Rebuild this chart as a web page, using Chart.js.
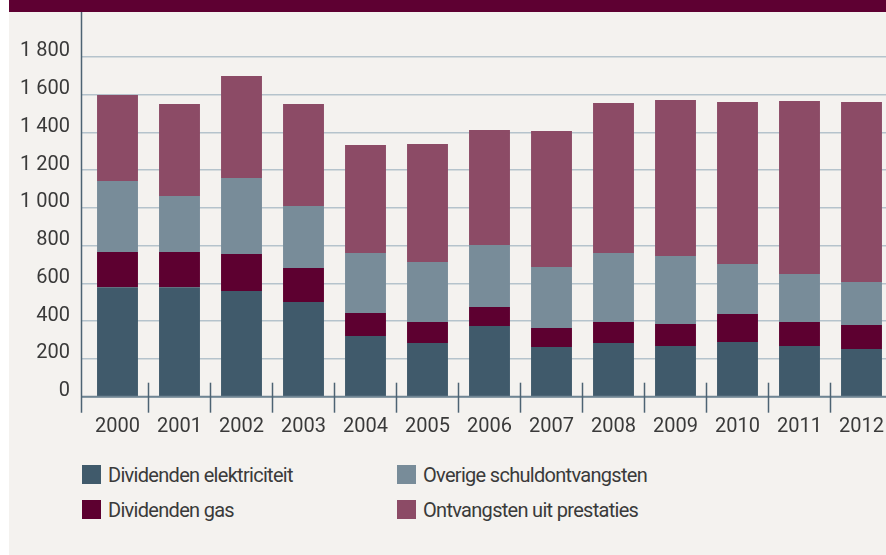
<!DOCTYPE html>
<html>
<head>
<meta charset="utf-8">
<script src="https://cdn.jsdelivr.net/npm/chart.js@4/dist/chart.umd.min.js"></script>
<style>
  html, body { margin: 0; padding: 0; width: 886px; height: 555px; overflow: hidden; background: #fff; }
  .panel { position: absolute; left: 9px; top: 0; width: 877px; height: 555px; background: #f4f2ef; }
  .band { position: absolute; left: 9px; top: 0; width: 877px; height: 12px; background: #5e0032; z-index: 2; }
  .wrap { position: absolute; left: 0; top: 0; width: 900px; height: 440px; }
  .legend { position: absolute; left: 0; top: 0; font-family: Roboto, sans-serif; font-size: 20px; letter-spacing: -0.7px; color: #3a3a3a; }
  .legend .item { position: absolute; display: flex; align-items: center; white-space: nowrap; height: 19px; }
  .legend .sw { width: 19px; height: 19px; margin-right: 7px; }
</style>
</head>
<body>
<div class="panel"></div>
<div class="band"></div>
<div class="wrap"><canvas id="chart" width="900" height="440"></canvas></div>
<div class="legend" id="legend"></div>
<script>
const years         = ['2000', '2001', '2002', '2003', '2004', '2005', '2006', '2007', '2008', '2009', '2010', '2011', '2012'];
const elektriciteit = [580, 580, 559, 501, 321, 284, 374, 263, 284, 268, 289, 268, 252];
const gas           = [186, 186, 196, 180, 122, 111, 101, 101, 111, 117, 149, 127, 127];
const overige       = [376, 296, 403, 328, 318, 318, 328, 322, 366, 360, 264, 254, 228];
const prestaties    = [455, 487, 540, 540, 571, 625, 609, 720, 794, 826, 858, 916, 953];
const yMax = 1800;
const yStep = 200;

const FONT = 'Roboto, sans-serif';
const TEXT = '#3a3a3a';

const series = [
  { label: 'Dividenden elektriciteit',  data: elektriciteit, color: '#405a6b' },
  { label: 'Dividenden gas',            data: gas,           color: '#5d0030' },
  { label: 'Overige schuldontvangsten', data: overige,       color: '#788c99' },
  { label: 'Ontvangsten uit prestaties', data: prestaties,   color: '#8c4b66' },
];

const fmt = (v) => String(v).replace(/\B(?=(\d{3})+(?!\d))/g, ' ');

// axis lines + category tick marks (drawn from the scales)
const axisPlugin = {
  id: 'axisLines',
  afterDatasetsDraw(chart) {
    const { ctx, chartArea, scales: { x, y } } = chart;
    const y0 = y.getPixelForValue(0);
    const axisX = chartArea.left - 5;
    ctx.save();
    ctx.strokeStyle = '#6f8593';
    ctx.lineWidth = 2;
    ctx.beginPath();
    ctx.moveTo(axisX, y0);
    ctx.lineTo(chart.width, y0);
    ctx.stroke();

    ctx.strokeStyle = '#4d6373';
    ctx.lineWidth = 1.5;
    ctx.beginPath();
    ctx.moveTo(axisX, 12);
    ctx.lineTo(axisX, y0 + 16);
    ctx.stroke();

    for (let i = 1; i < years.length + 1; i++) {
      const bx = (x.getPixelForValue(i - 1) + x.getPixelForValue(i)) / 2;
      ctx.beginPath();
      ctx.moveTo(bx, y0 - 14);
      ctx.lineTo(bx, y0 + 16);
      ctx.stroke();
    }
    ctx.restore();
  },
};

new Chart(document.getElementById('chart'), {
  type: 'bar',
  data: {
    labels: years,
    datasets: series.map((s) => ({
      label: s.label,
      data: s.data,
      backgroundColor: s.color,
      borderWidth: 0,
      barPercentage: 0.66,
      categoryPercentage: 1,
    })),
  },
  options: {
    responsive: false,
    animation: false,
    layout: { padding: { top: 56.7, right: 7.5, left: 0, bottom: 0 } },
    plugins: { legend: { display: false }, tooltip: { enabled: false } },
    scales: {
      x: {
        stacked: true,
        offset: true,
        grid: { display: false },
        border: { display: false },
        ticks: { color: TEXT, font: { family: FONT, size: 20 }, padding: 10, maxRotation: 0, autoSkip: false },
        afterFit: (s) => { s.height = 43.3; },
      },
      y: {
        stacked: true,
        min: 0,
        max: yMax,
        grid: { color: '#b5c3cc', lineWidth: 1.5, drawTicks: true, tickLength: 5.5, tickColor: '#b5c3cc' },
        border: { display: false },
        ticks: {
          stepSize: yStep,
          color: TEXT,
          font: { family: FONT, size: 20 },
          padding: 11,
          labelOffset: -5.5,
          callback: (v) => fmt(v),
        },
        afterFit: (s) => { s.width = 86.5; },
      },
    },
  },
  plugins: [axisPlugin],
});

// legend, two columns
const legendPos = [[82, 465], [82, 500], [397, 465], [397, 500]];
const legend = document.getElementById('legend');
series.forEach((s, i) => {
  const item = document.createElement('div');
  item.className = 'item';
  item.style.left = legendPos[i][0] + 'px';
  item.style.top = legendPos[i][1] + 'px';
  item.innerHTML = `<span class="sw" style="background:${s.color}"></span><span>${s.label}</span>`;
  legend.appendChild(item);
});
</script>
</body>
</html>
